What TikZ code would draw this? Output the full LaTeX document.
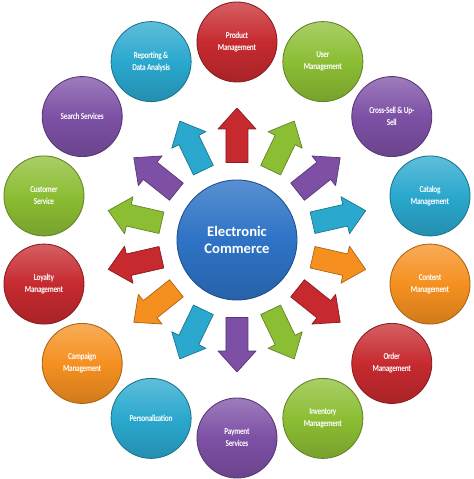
\documentclass[tikz,border=0pt]{standalone}
\usepackage{fontspec}
\setmainfont{Carlito}
\newfontfamily\labelfont[FakeStretch=0.8,LetterSpace=-3]{Carlito Bold}
\usetikzlibrary{calc}
\definecolor{ecred}{RGB}{198,42,47}
\definecolor{ecgreen}{RGB}{140,190,52}
\definecolor{ecpurple}{RGB}{125,80,165}
\definecolor{ecteal}{RGB}{42,168,206}
\definecolor{ecorange}{RGB}{245,144,32}
\definecolor{ecblue}{RGB}{46,115,198}

\begin{document}
\begin{tikzpicture}[line join=round,
		main node/.style={circle,minimum size=1.6cm,inner sep=0pt,align=center,text=white,
			font=\labelfont\fontsize{5.2}{6.8}\selectfont,
			top color=#1!75!white,bottom color=#1!85!black,middle color=#1,draw=#1!70!black,line width=0.5pt},
		center node/.style={circle,minimum size=2.4cm,inner sep=0pt,align=center,text=white,
			font=\fontsize{8.3}{9.3}\selectfont\bfseries,
			top color=ecblue!80!white,bottom color=ecblue!85!black,middle color=ecblue,draw=ecblue!70!black,line width=0.5pt},
		block/.style={to path={
			($(\tikztostart)!1.55cm!(\tikztotarget)!0.22cm!90:(\tikztotarget)$)
			-- ($(\tikztostart)!2.22cm!(\tikztotarget)!0.22cm!90:(\tikztotarget)$)
			-- ($(\tikztostart)!2.22cm!(\tikztotarget)!0.38cm!90:(\tikztotarget)$)
			-- ($(\tikztostart)!2.64cm!(\tikztotarget)$)
			-- ($(\tikztostart)!2.22cm!(\tikztotarget)!0.38cm!-90:(\tikztotarget)$)
			-- ($(\tikztostart)!2.22cm!(\tikztotarget)!0.22cm!-90:(\tikztotarget)$)
			-- ($(\tikztostart)!1.55cm!(\tikztotarget)!0.22cm!-90:(\tikztotarget)$)
			-- cycle}},
		arrow/.style={fill=#1,draw=#1!70!black,line width=0.4pt}]

	\useasboundingbox (-4.74,-4.78) rectangle (4.74,4.80);

	\node[center node] (1) at (0,0) {Electronic\\Commerce};
	\node[main node=ecred] (2) at (90:3.96) {Product\\Management};
	\node[main node=ecgreen] (3) at (64.29:3.96) {User\\Management};
	\node[main node=ecpurple] (4) at (38.57:3.96) {Cross-Sell \& Up-\\Sell};
	\node[main node=ecteal] (5) at (12.86:3.96) {Catalog\\Management};
	\node[main node=ecorange] (6) at (-12.86:3.96) {Content\\Management};
	\node[main node=ecred] (7) at (-38.57:3.96) {Order\\Management};
	\node[main node=ecgreen] (8) at (-64.29:3.96) {Inventory\\Management};
	\node[main node=ecpurple] (9) at (-90:3.96) {Payment\\Services};
	\node[main node=ecteal] (10) at (-115.71:3.96) {Personalization};
	\node[main node=ecorange] (11) at (-141.43:3.96) {Campaign\\Management};
	\node[main node=ecred] (12) at (-167.14:3.96) {Loyalty\\Management};
	\node[main node=ecgreen] (13) at (167.14:3.96) {Customer\\Service};
	\node[main node=ecpurple] (14) at (141.43:3.96) {Search Services};
	\node[main node=ecteal] (15) at (115.71:3.96) {Reporting \&\\Data Analysis};

	\path[block]
		(1) edge[arrow=ecred] (2)
		(1) edge[arrow=ecgreen] (3)
		(1) edge[arrow=ecpurple] (4)
		(1) edge[arrow=ecteal] (5)
		(1) edge[arrow=ecorange] (6)
		(1) edge[arrow=ecred] (7)
		(1) edge[arrow=ecgreen] (8)
		(1) edge[arrow=ecpurple] (9)
		(1) edge[arrow=ecteal] (10)
		(1) edge[arrow=ecorange] (11)
		(1) edge[arrow=ecred] (12)
		(1) edge[arrow=ecgreen] (13)
		(1) edge[arrow=ecpurple] (14)
		(1) edge[arrow=ecteal] (15);
\end{tikzpicture}
\end{document}
